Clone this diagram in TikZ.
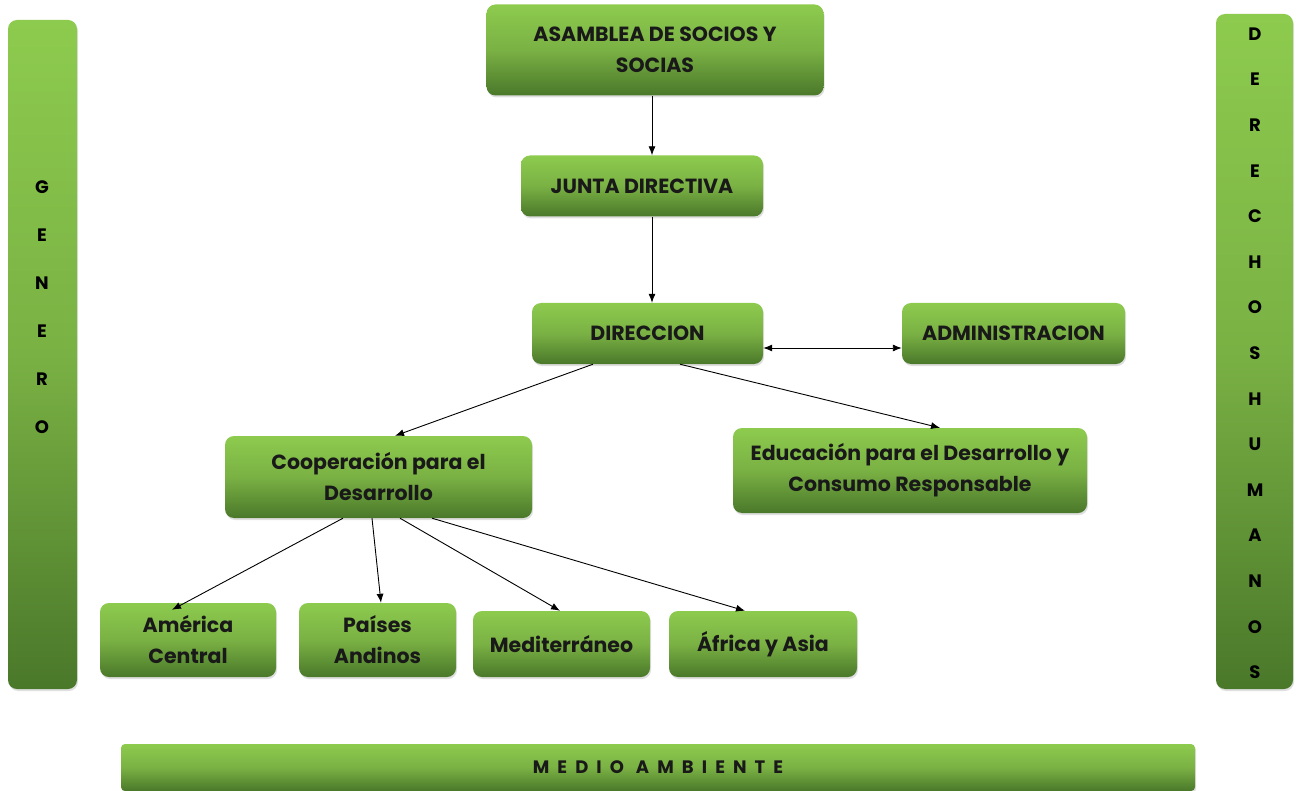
\documentclass[tikz,border=0pt]{standalone}
\usepackage{fontspec}
\setmainfont{Poppins}
\usetikzlibrary{arrows.meta,shadows}
\definecolor{leafTop}{HTML}{8DCB4E}
\definecolor{leafMid}{HTML}{7AB144}
\definecolor{leafLow}{HTML}{4A782A}

\begin{document}
\begin{tikzpicture}[x=1pt,y=-1pt,>={Latex[length=9pt,width=7pt]},
  font=\fontsize{20.5}{31}\selectfont\bfseries,
  box/.style={rounded corners=9pt,top color=leafTop,bottom color=leafLow,middle color=leafMid,
    inner sep=0pt,align=center,text=black!90,
    drop shadow={shadow xshift=1pt,shadow yshift=-2pt,opacity=0.25}},
  letter/.style={inner sep=0pt,font=\fontsize{18}{20}\selectfont\bfseries},
  link/.style={->,line width=0.9pt}]
\useasboundingbox (0,0) rectangle (1300,791);
% side bars
\node[box,minimum width=69,minimum height=669] (genero) at (42.5,354.5) {};
\node[box,minimum width=77,minimum height=675] (derechos) at (1254.5,351.5) {};
\foreach \ch [count=\k] in {G,E,N,E,R,O}
  \node[letter] at (42,{139+48*\k}) {\ch};
\foreach \ch [count=\k] in {D,E,R,E,C,H,O,S,H,U,M,A,N,O,S}
  \node[letter] at (1255,{-11.6+45.6*\k}) {\ch};
% bottom bar
\node[box,rounded corners=4pt,minimum width=1074,minimum height=47] (medio) at (658,767.5)
  {\fontsize{18}{20}\selectfont\addfontfeature{LetterSpace=45}MEDIO AMBIENTE};
% top levels
\node[box,minimum width=337,minimum height=91] (asamblea) at (655,50) {ASAMBLEA DE SOCIOS Y\\SOCIAS};
\node[box,minimum width=242,minimum height=61] (junta) at (642,186) {JUNTA DIRECTIVA};
\node[box,minimum width=231,minimum height=61] (direccion) at (647.5,333.5) {DIRECCION};
\node[box,minimum width=223,minimum height=61] (admin) at (1013.5,333.5) {ADMINISTRACION};
% areas
\node[box,minimum width=307,minimum height=82] (coop) at (378.5,477) {Cooperación para el\\Desarrollo};
\node[box,minimum width=354,minimum height=85] (educa) at (910,470.5) {Educación para el Desarrollo y\\Consumo Responsable};
% regions
\node[box,minimum width=176,minimum height=74] (amercen) at (188,640) {América\\Central};
\node[box,minimum width=157,minimum height=74] (andinos) at (377.5,640) {Países\\Andinos};
\node[box,minimum width=177,minimum height=66] (medit) at (561.5,644) {Mediterráneo};
\node[box,minimum width=188,minimum height=66] (africa) at (763,644) {África y Asia};
% connectors
\draw[link] ([xshift=-3]asamblea.south) -- ([xshift=10]junta.north);
\draw[link] ([xshift=10]junta.south) -- ([xshift=4.5]direccion.north);
\draw[link,<->] ([yshift=-14.5]direccion.east) -- ([yshift=-14.5]admin.west);
\draw[link] ([xshift=-54.5]direccion.south) -- ([xshift=16.5]coop.north);
\draw[link] ([xshift=32.5]direccion.south) -- ([xshift=30]educa.north);
\draw[link] ([xshift=-35.5]coop.south) -- ([xshift=-16,yshift=-7]amercen.north);
\draw[link] ([xshift=-6.5]coop.south) -- ([xshift=3.5]andinos.north);
\draw[link] ([xshift=21.5]coop.south) -- ([xshift=-1.5]medit.north);
\draw[link] ([xshift=53.5]coop.south) -- ([xshift=-18]africa.north);
\end{tikzpicture}
\end{document}
